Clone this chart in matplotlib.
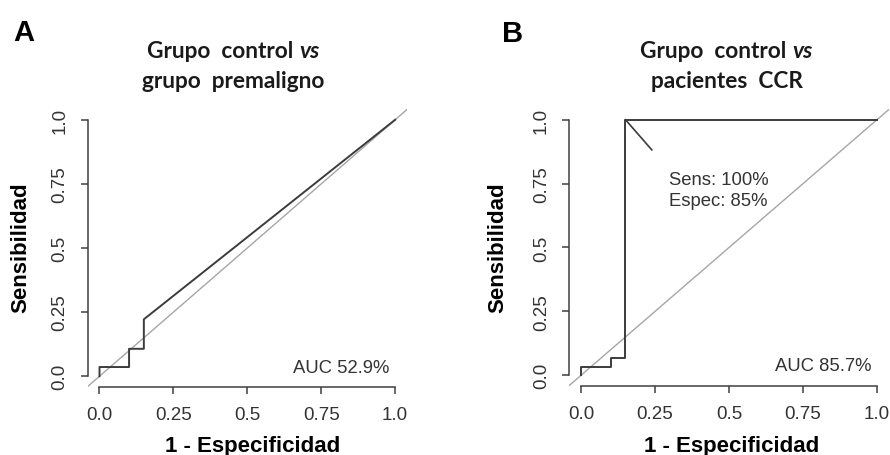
import matplotlib
matplotlib.use("Agg")
import matplotlib.pyplot as plt

# ROC curves (1 - specificity, sensitivity)
fpr_a = [0.0, 0.0, 0.10, 0.10, 0.15, 0.15, 1.0]
tpr_a = [0.0, 0.036, 0.036, 0.107, 0.107, 0.222, 1.0]
fpr_b = [0.0, 0.0, 0.10, 0.10, 0.15, 0.15, 1.0]
tpr_b = [0.0, 0.033, 0.033, 0.067, 0.067, 1.0, 1.0]

ticks = [0.0, 0.25, 0.5, 0.75, 1.0]
tick_labels = ["0.0", "0.25", "0.5", "0.75", "1.0"]

auc_a = "AUC 52.9%"
auc_b = "AUC 85.7%"
cut_b = (0.15, 1.0)
cut_text = "Sens: 100%\nEspec: 85%"

W, H = 890, 456
fig = plt.figure(figsize=(W / 100, H / 100), dpi=100)
plt.rcParams['font.family'] = ['Liberation Sans', 'DejaVu Sans']

roc_col = '#3c3c3c'
diag_col = '#a6a6a6'
txt_col = '#333333'


def setup(ax):
    ax.set_xlim(-0.04, 1.04)
    ax.set_ylim(-0.04, 1.04)
    ax.axline((0, 0), (1, 1), color=diag_col, lw=1.0, zorder=1)
    for s in ['top', 'right']:
        ax.spines[s].set_visible(False)
    for s in ['left', 'bottom']:
        ax.spines[s].set_bounds(0, 1)
        ax.spines[s].set_color('#404040')
        ax.spines[s].set_linewidth(1.1)
    ax.set_xticks(ticks)
    ax.set_xticklabels(tick_labels)
    ax.set_yticks(ticks)
    ax.set_yticklabels(tick_labels, rotation=90, va='center')
    ax.tick_params(axis='x', length=5, width=1.1, color='#404040', pad=9,
                   labelsize=13.5, labelcolor=txt_col)
    ax.tick_params(axis='y', length=5, width=1.1, color='#404040', pad=9,
                   labelsize=13.5, labelcolor=txt_col)
    ax.set_facecolor('none')


ax1 = fig.add_axes([0.0985, 0.1502, 0.3588, 0.6075])
ax2 = fig.add_axes([0.6396, 0.1524, 0.3591, 0.6053])
setup(ax1)
setup(ax2)

ax1.plot(fpr_a, tpr_a, color=roc_col, lw=1.4, zorder=2)
ax2.plot(fpr_b, tpr_b, color=roc_col, lw=1.4, zorder=2)

ax1.text(0.98, 0.035, auc_a, ha='right', va='center', fontsize=13.3, color=txt_col)
ax2.text(0.98, 0.039, auc_b, ha='right', va='center', fontsize=13.3, color=txt_col)

# cut-off marker in B
ax2.plot([cut_b[0], 0.239], [cut_b[1], 0.882], color=roc_col, lw=1.2)
ax2.text(0.298, 0.725, cut_text, ha='left', va='center', fontsize=13.3,
         color=txt_col, linespacing=1.3)

# axis labels
for cx, cy in [(20.7, 247.5), (498.3, 247.5)]:
    fig.text(cx / W, 1 - cy / H, "Sensibilidad", rotation=90, ha='center',
             va='center', fontsize=16, fontweight='bold', color='black')
for cx, cy in [(253, 446.7), (732, 446.7)]:
    fig.text(cx / W, 1 - cy / H, "1 - Especificidad", ha='center',
             va='center', fontsize=16, fontweight='bold', color='black')

# panel letters
fig.text(24 / W, 1 - 33 / H, "A", ha='center', va='center', fontsize=21,
         fontweight='bold')
fig.text(513 / W, 1 - 34 / H, "B", ha='center', va='center', fontsize=21,
         fontweight='bold')

# titles (with italic "vs")
fig.canvas.draw()
rend = fig.canvas.get_renderer()
tfont = dict(family=['Lato', 'DejaVu Sans'], fontsize=16.3, color='#1a1a1a')
for cx, line2 in [(233, "grupo premaligno"), (726.7, "pacientes CCR")]:
    t1 = fig.text(0, 1 - 52 / H, "Grupo  control", ha='left', va='center',
                  fontweight='bold', **tfont)
    t2 = fig.text(0, 1 - 52 / H, "vs", ha='left', va='center',
                  fontweight='bold', style='italic', **tfont)
    w1 = t1.get_window_extent(rend).width
    w2 = t2.get_window_extent(rend).width
    gap = 6
    left = cx - (w1 + gap + w2) / 2
    t1.set_x(left / W)
    t2.set_x((left + w1 + gap) / W)
    fig.text(cx / W, 1 - 82 / H, line2.replace(" ", "  "), ha='center',
             va='center', fontweight='bold', **tfont)

fig.savefig("out.png", dpi=100)
